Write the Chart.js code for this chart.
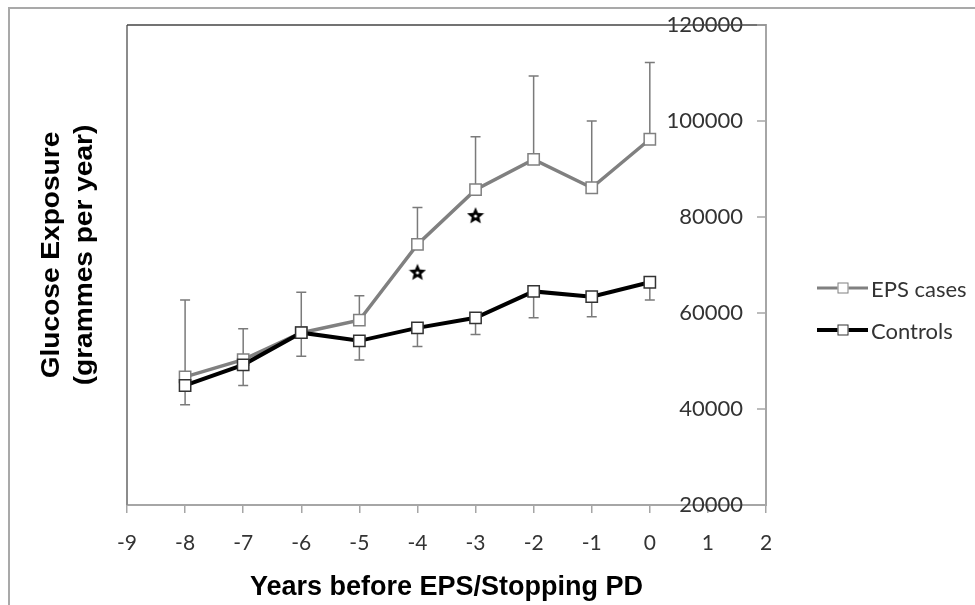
<!DOCTYPE html>
<html>
<head>
<meta charset="utf-8">
<script src="https://cdn.jsdelivr.net/npm/chart.js@4.4.0/dist/chart.umd.min.js"></script>
<style>
  html, body { margin: 0; padding: 0; background: #fff; overflow: hidden; }
  #wrap { position: relative; width: 975px; height: 605px; overflow: hidden; }
  #frame { position: absolute; left: 8px; top: 7px; width: 1000px; height: 700px; border-left: 2px solid #a9a9a9; border-top: 2px solid #a9a9a9; }
  #chart { position: absolute; left: 0; top: 0; }
  .legend { position: absolute; left: 817px; top: 267px; font-family: Lato, sans-serif; font-size: 22px; color: #333; }
  .legend .row { display: flex; align-items: center; height: 42px; }
  .legend .swatch { position: relative; width: 51px; height: 14px; margin-right: 3px; }
  .legend .ln { position: absolute; left: 0; right: 0; top: 50%; transform: translateY(-50%); }
  .legend .mk { position: absolute; left: 50%; top: 50%; width: 9px; height: 9px; transform: translate(-50%, -50%); background: #fff; border: 1.5px solid; }
</style>
</head>
<body>
<div id="wrap">
  <div id="frame"></div>
  <canvas id="chart" width="975" height="605"></canvas>
  <div class="legend">
    <div class="row">
      <div class="swatch"><div class="ln" style="height:3px;background:#808080"></div><div class="mk" style="border-color:#808080"></div></div>
      <span>EPS cases</span>
    </div>
    <div class="row">
      <div class="swatch"><div class="ln" style="height:4px;background:#000"></div><div class="mk" style="border-color:#333"></div></div>
      <span>Controls</span>
    </div>
  </div>
</div>
<script>
// data
const years = [-8, -7, -6, -5, -4, -3, -2, -1, 0];
const epsCases = [46700, 50300, 55900, 58500, 74300, 85700, 92000, 86100, 96200];
const epsUpper = [62700, 56700, 64300, 63600, 82000, 96700, 109400, 100000, 112200];
const controls = [44900, 49200, 55900, 54200, 56900, 59000, 64500, 63400, 66400];
const controlsLower = [40900, 44900, 51000, 50200, 53000, 55500, 59000, 59200, 62700];
const starYears = [-4, -3];
const starValues = [68600, 80400];
const xTickValues = [-9, -8, -7, -6, -5, -4, -3, -2, -1, 0, 1, 2];
const yTickValues = [20000, 40000, 60000, 80000, 100000, 120000];
const yTitleLines = ["Glucose Exposure", "(grammes per year)"];

const toPoints = (xs, ys) => xs.map((x, i) => ({ x: x, y: ys[i] }));

// little filled star used as point style
function makeStar(size) {
  const c = document.createElement("canvas");
  c.width = size;
  c.height = size;
  const g = c.getContext("2d");
  const cx = size / 2, cy = size / 2 + 1, R = size / 2, r = R * 0.45;
  g.beginPath();
  for (let i = 0; i < 10; i++) {
    const a = -Math.PI / 2 + (i * Math.PI) / 5;
    const rad = i % 2 ? r : R;
    g.lineTo(cx + rad * Math.cos(a), cy + rad * Math.sin(a));
  }
  g.closePath();
  g.fillStyle = "#000";
  g.fill();
  g.beginPath();
  g.arc(cx, cy, r * 0.4, 0, 2 * Math.PI);
  g.fillStyle = "#fff";
  g.fill();
  return c;
}

// error bars: EPS upwards, controls downwards
const errorBars = {
  id: "errorBars",
  beforeDatasetsDraw(chart) {
    const { ctx } = chart;
    const x = chart.scales.x, y = chart.scales.y;
    ctx.save();
    ctx.strokeStyle = "#7a7a7a";
    ctx.lineWidth = 1.5;
    const drawBar = (xv, from, to) => {
      const px = x.getPixelForValue(xv);
      const y0 = y.getPixelForValue(from);
      const y1 = y.getPixelForValue(to);
      ctx.beginPath();
      ctx.moveTo(px, y0);
      ctx.lineTo(px, y1);
      ctx.moveTo(px - 5, y1);
      ctx.lineTo(px + 5, y1);
      ctx.stroke();
    };
    years.forEach((yr, i) => {
      drawBar(yr, epsCases[i], epsUpper[i]);
      drawBar(yr, controls[i], controlsLower[i]);
    });
    ctx.restore();
  },
};

// plot frame, inward y ticks, rotated y title
const plotFrame = {
  id: "plotFrame",
  beforeDatasetsDraw(chart) {
    const { ctx, chartArea } = chart;
    const y = chart.scales.y;
    ctx.save();
    ctx.lineWidth = 2;
    ctx.strokeStyle = "#8c8c8c";
    ctx.beginPath();
    ctx.moveTo(chartArea.left, chartArea.top);
    ctx.lineTo(chartArea.left, chartArea.bottom);
    ctx.stroke();
    ctx.lineWidth = 1.5;
    ctx.strokeStyle = "#444";
    ctx.beginPath();
    ctx.moveTo(chartArea.left, chartArea.top);
    ctx.lineTo(chartArea.right, chartArea.top);
    ctx.stroke();

    ctx.strokeStyle = "#a6a6a6";
    ctx.beginPath();
    y.ticks.forEach((t) => {
      const py = y.getPixelForValue(t.value);
      ctx.moveTo(chartArea.right - 9, py);
      ctx.lineTo(chartArea.right, py);
    });
    ctx.stroke();

    ctx.translate(0, 255);
    ctx.rotate(-Math.PI / 2);
    ctx.scale(1.08, 1);
    ctx.font = "bold 26px 'Liberation Sans', Arial, sans-serif";
    ctx.fillStyle = "#000";
    ctx.textAlign = "center";
    ctx.textBaseline = "alphabetic";
    ctx.fillText(yTitleLines[0], 0, 59);
    ctx.fillText(yTitleLines[1], 0, 92);
    ctx.restore();
  },
};

const chart = new Chart(document.getElementById("chart"), {
  type: "line",
  data: {
    datasets: [
      {
        label: "EPS cases",
        data: toPoints(years, epsCases),
        borderColor: "#808080",
        borderWidth: 3.5,
        pointStyle: "rect",
        pointRadius: 8,
        pointBackgroundColor: "#fff",
        pointBorderColor: "#808080",
        pointBorderWidth: 1.5,
        order: 2,
      },
      {
        label: "Controls",
        data: toPoints(years, controls),
        borderColor: "#000",
        borderWidth: 4,
        pointStyle: "rect",
        pointRadius: 8,
        pointBackgroundColor: "#fff",
        pointBorderColor: "#333",
        pointBorderWidth: 1.5,
        order: 1,
      },
      {
        label: "significant",
        data: toPoints(starYears, starValues),
        showLine: false,
        pointStyle: makeStar(18),
        pointRadius: 9,
        order: 0,
      },
    ],
  },
  options: {
    responsive: false,
    animation: false,
    layout: { padding: { left: 127, right: 209, top: 25, bottom: 0 } },
    plugins: {
      legend: { display: false },
      tooltip: { enabled: false },
    },
    scales: {
      x: {
        type: "linear",
        min: -9,
        max: 2,
        afterBuildTicks: (s) => { s.ticks = xTickValues.map((v) => ({ value: v })); },
        afterFit: (s) => { s.height = 100; },
        grid: { drawOnChartArea: false, color: "#a6a6a6", lineWidth: 1.5, tickLength: 8 },
        border: { color: "#a6a6a6", width: 2 },
        ticks: {
          padding: 18,
          color: "#333",
          font: { family: "Lato", size: 21 },
          callback: (v) => String(v),
        },
        title: {
          display: true,
          text: "Years before EPS/Stopping PD",
          color: "#000",
          font: { family: "'Liberation Sans', Arial", size: 27, weight: "bold" },
          padding: { top: 0, bottom: 1 },
        },
      },
      y: {
        position: "right",
        min: 20000,
        max: 120000,
        afterBuildTicks: (s) => { s.ticks = yTickValues.map((v) => ({ value: v })); },
        afterFit: (s) => {
          s.width = 0;
          s.paddingTop = 0;
          s.paddingBottom = 0;
        },
        grid: { display: false },
        border: { color: "#a6a6a6", width: 2 },
        ticks: {
          mirror: true,
          padding: -23,
          color: "#333",
          font: { family: "Lato", size: 22 },
          callback: (v) => String(v),
        },
      },
    },
  },
  plugins: [errorBars, plotFrame],
});
</script>
</body>
</html>
